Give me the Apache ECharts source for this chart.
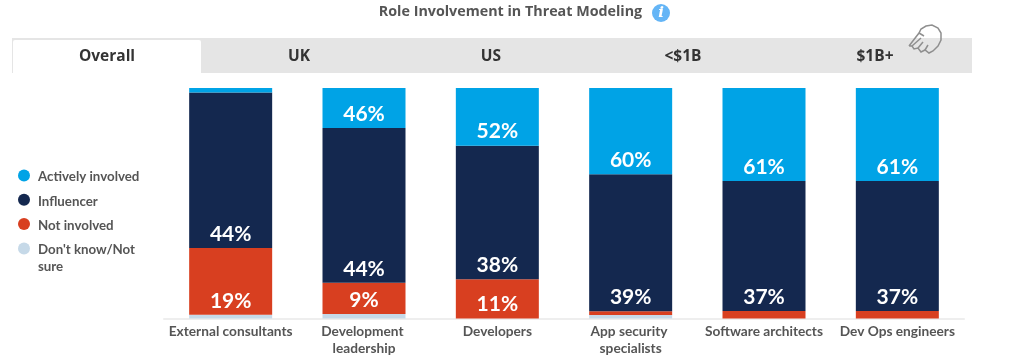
<!DOCTYPE html>
<html><head><meta charset="utf-8">
<style>html,body{margin:0;padding:0;background:#fff}#c{width:1024px;height:358px}</style>
<script src="https://cdn.jsdelivr.net/npm/echarts@6/dist/echarts.min.js"></script></head>
<body><div id="c"></div>
<script>
var categories = ['External consultants','Development leadership','Developers','App security specialists','Software architects','Dev Ops engineers'];
var tabs = ['Overall','UK','US','<$1B','$1B+'];
var activeHeights = [2,17.4,25,37.4,40.3,40.3];
var influencerHeights = [67.4,67.1,58,59.5,56.5,56.5];
var notInvolvedHeights = [29,13.6,17,1.6,3.2,3.2];
var dontKnowHeights = [1.6,1.9,0,1.5,0,0];
var activeLabels = ['','46%','52%','60%','61%','61%'];
var influencerLabels = ['44%','44%','38%','39%','37%','37%'];
var notInvolvedLabels = ['19%','9%','11%','','',''];
var dontKnowLabels = ['','','','','',''];
var legendNames = ['Actively involved','Influencer','Not involved',"Don't know/Not\nsure"];
var legendColors = ['#00a3e6','#14284f','#d83f20','#c6d9e8'];
var titleText = 'Role Involvement in Threat Modeling';

function mk(name,data,labels,color){
  return {name:name,type:'bar',stack:'t',barWidth:83,data:data,itemStyle:{color:color},
    label:{show:true,position:'insideBottom',distance:3.5,color:'#fff',fontFamily:'Lato',fontWeight:'bold',fontSize:21,
      formatter:function(p){return labels[p.dataIndex];}}};
}
var chart = echarts.init(document.getElementById('c'),null,{renderer:'canvas'});
var handStyle = {fill:'none',stroke:'#8f8f8f',lineWidth:1.5};
var g = [
  {type:'rect',shape:{x:12,y:38,width:960,height:35},style:{fill:'#e5e5e5'},silent:true},
  {type:'rect',shape:{x:13,y:40,width:188,height:33,r:[2,2,0,0]},style:{fill:'#fff'},silent:true},
  {type:'text',x:510.5,y:12,style:{text:titleText,fill:'#555',font:'bold 14.3px "Open Sans"',align:'center',verticalAlign:'middle'}},
  {type:'circle',shape:{cx:661,cy:13,r:9},style:{fill:'#64b5f6'}},
  {type:'text',x:661,y:13,style:{text:'i',fill:'#fff',font:'bold italic 15px "DejaVu Serif"',align:'center',verticalAlign:'middle'}},
  {type:'polyline',shape:{points:[[909,46],[919,33],[921,29],[926,26],[932,25],[938,28],[941,33],[941,40],[938,46],[933,51],[929,53],[925,50],[921,52],[918,48],[914,49],[912,46],[909,46]]},style:handStyle},
  {type:'line',shape:{x1:912,y1:46,x2:921,y2:38},style:handStyle},
  {type:'line',shape:{x1:918,y1:48,x2:923,y2:42},style:handStyle},
  {type:'line',shape:{x1:925,y1:50,x2:928,y2:45},style:handStyle},
  {type:'line',shape:{x1:919,y1:33,x2:924,y2:36},style:handStyle}
];
tabs.forEach(function(t,i){
  g.push({type:'text',x:107+192*i,y:57,style:{text:t,fill:'#333',font:'bold 15.5px "Open Sans"',align:'center',verticalAlign:'middle'}});
});
legendNames.forEach(function(n,i){
  var y = 175.5+24.3*i;
  g.push({type:'circle',shape:{cx:24,cy:y,r:6},style:{fill:legendColors[i]}});
  g.push({type:'text',x:38,y:y-7,style:{text:n,fill:'#555',font:'bold 13.3px Lato',lineHeight:17,align:'left',verticalAlign:'top'}});
});
chart.setOption({
  animation:false,
  backgroundColor:'#fff',
  grid:{left:164,right:60,top:88,bottom:39.5},
  xAxis:{type:'category',data:categories,
    axisLine:{lineStyle:{color:'#eeeeee',width:2}},axisTick:{show:false},
    axisLabel:{interval:0,margin:5,fontFamily:'Lato',fontWeight:'bold',fontSize:13.7,color:'#555',lineHeight:17,width:128,overflow:'break'}},
  yAxis:{type:'value',min:0,max:100,show:false},
  series:[
    mk("Don't know/Not sure",dontKnowHeights,dontKnowLabels,legendColors[3]),
    mk('Not involved',notInvolvedHeights,notInvolvedLabels,legendColors[2]),
    mk('Influencer',influencerHeights,influencerLabels,legendColors[1]),
    mk('Actively involved',activeHeights,activeLabels,legendColors[0])
  ],
  graphic:g
});
</script></body></html>
